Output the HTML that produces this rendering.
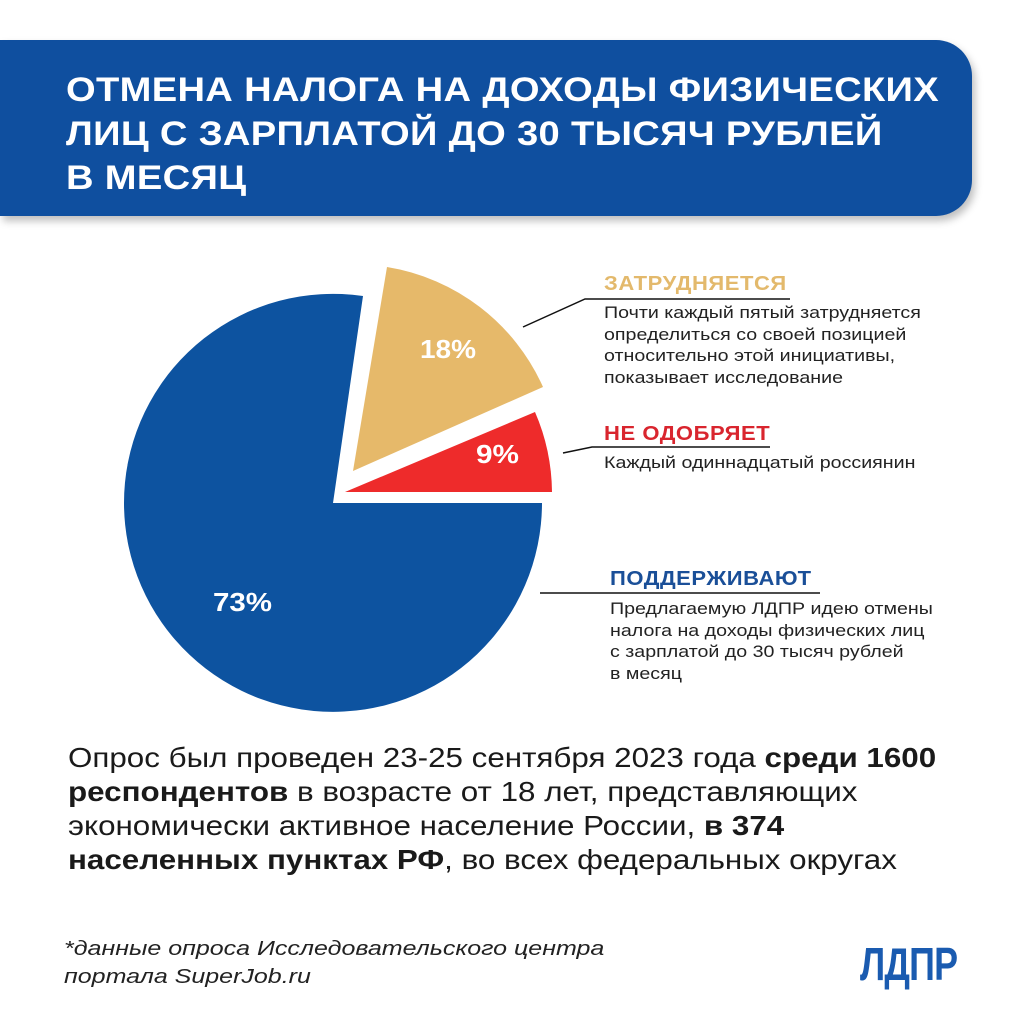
<!DOCTYPE html>
<html><head><meta charset="utf-8"><style>
html,body{margin:0;padding:0;background:#fff;}
body{width:1024px;height:1024px;position:relative;overflow:hidden;font-family:"Liberation Sans","DejaVu Sans",sans-serif;}
.hdr{position:absolute;left:0;top:40px;width:972px;height:176px;background:#0f4f9f;border-radius:0 36px 36px 0;box-shadow:3px 5px 8px rgba(0,0,0,0.25);}
.hdr div{position:absolute;left:66px;top:28px;color:#fff;font-weight:bold;font-size:34.5px;line-height:44px;letter-spacing:0.3px;transform:scaleX(1.105);transform-origin:left;white-space:nowrap;}
.t{position:absolute;white-space:nowrap;transform-origin:left top;}
.lab{font-weight:bold;font-size:20px;letter-spacing:0.5px;transform:scaleX(1.1);}
.desc{font-size:16.5px;line-height:21.5px;color:#222;transform:scaleX(1.19);}
.body{left:68px;top:741px;font-size:27.5px;line-height:34px;color:#1a1a1a;transform:scaleX(1.14);}
.foot{left:64px;top:935px;font-size:20px;line-height:28px;font-style:italic;color:#222;transform:scaleX(1.25);}
.logo{left:860px;top:937px;font-size:46px;font-weight:bold;color:#1a5bb0;transform:scaleX(0.78);letter-spacing:-1px;}
</style></head><body>
<div class="hdr"><div>ОТМЕНА НАЛОГА НА ДОХОДЫ ФИЗИЧЕСКИХ<br>ЛИЦ С ЗАРПЛАТОЙ ДО 30 ТЫСЯЧ РУБЛЕЙ<br>В МЕСЯЦ</div></div>
<svg width="1024" height="1024" style="position:absolute;left:0;top:0">
<path d="M333,503 L542,503 A209,209 0 1 1 363,296 Z" fill="#0d53a0"/>
<path d="M353,471 L387,267 A207,207 0 0 1 543,387 Z" fill="#e6b96a"/>
<path d="M345,492 L535,412 A206,206 0 0 1 552,492 Z" fill="#ee2b2b"/>
<g fill="#fff" font-family="Liberation Sans, sans-serif" font-weight="bold" font-size="26">
<text x="420" y="358" textLength="56" lengthAdjust="spacingAndGlyphs">18%</text>
<text x="476" y="463" textLength="43" lengthAdjust="spacingAndGlyphs">9%</text>
<text x="213" y="611" textLength="59" lengthAdjust="spacingAndGlyphs">73%</text>
</g>
<g stroke="#111" stroke-width="1.5" fill="none">
<polyline points="523,327 585,299 790,299"/>
<polyline points="563,453 592,447 770,447"/>
<polyline points="540,593 820,593"/>
</g>
</svg>
<div class="t lab" style="left:604px;top:273px;color:#e3b96c">ЗАТРУДНЯЕТСЯ</div>
<div class="t desc" style="left:604px;top:303px">Почти каждый пятый затрудняется<br>определиться со своей позицией<br>относительно этой инициативы,<br>показывает исследование</div>
<div class="t lab" style="left:604px;top:423px;color:#d9252e">НЕ ОДОБРЯЕТ</div>
<div class="t desc" style="left:604px;top:453px">Каждый одиннадцатый россиянин</div>
<div class="t lab" style="left:610px;top:568px;color:#1a4f98">ПОДДЕРЖИВАЮТ</div>
<div class="t desc" style="left:610px;top:599px">Предлагаемую ЛДПР идею отмены<br>налога на доходы физических лиц<br>с зарплатой до 30 тысяч рублей<br>в месяц</div>
<div class="t body">Опрос был проведен 23-25 сентября 2023 года <b>среди 1600</b><br><b>респондентов</b> в возрасте от 18 лет, представляющих<br>экономически активное население России, <b>в 374</b><br><b>населенных пунктах РФ</b>, во всех федеральных округах</div>
<div class="t foot">*данные опроса Исследовательского центра<br>портала SuperJob.ru</div>
<div class="t logo">ЛДПР</div>
</body></html>
